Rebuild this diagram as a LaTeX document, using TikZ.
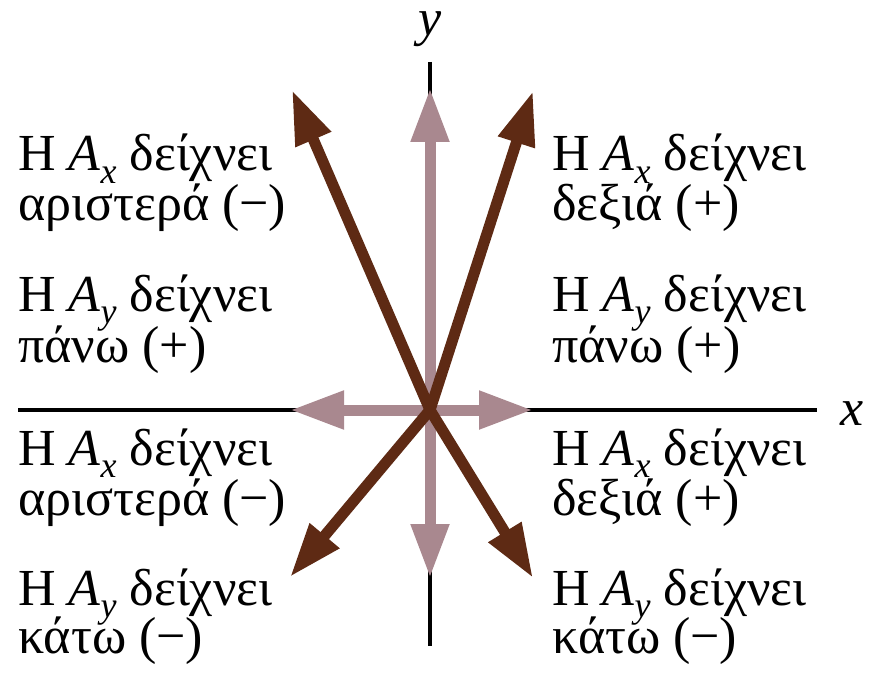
\documentclass[tikz,border=0pt]{standalone}
\usepackage{fontspec}
\setmainfont{Liberation Serif}
\usetikzlibrary{arrows.meta}
\definecolor{vecbrown}{HTML}{5E2A14}
\definecolor{vecpink}{HTML}{A9888F}
\newcommand\compsub[1]{\raisebox{-0.24em}{\fontsize{36}{36}\selectfont\itshape #1}}
\newcommand\Acomp[1]{\textit{A}\compsub{#1}}
\begin{document}
\begin{tikzpicture}[x=1pt,y=-1pt,
  lbl/.style={anchor=base west, inner sep=0pt, font=\fontsize{52}{60}\selectfont},
  axlabel/.style={anchor=base, inner sep=0pt, text height=0.5em, font=\fontsize{52}{60}\selectfont\itshape},
  axisline/.style={line width=4pt, black},
  comp/.style={line width=11pt, vecpink, -{Triangle[length=54pt,width=36pt]}},
  vec/.style={line width=11pt, vecbrown, -{Triangle[length=54pt,width=36pt]}}]
\useasboundingbox (0,0) rectangle (877,676);
\coordinate (O) at (430,410);
\coordinate (xl) at (18,410);
\coordinate (xr) at (817,410);
\coordinate (yt) at (430,62);
\coordinate (yb) at (430,646);
\draw[axisline] (xl) -- (xr);
\draw[axisline] (yt) -- (yb);
\node[axlabel] (xlab) at (852,425) {x};
\node[axlabel] (ylab) at (430,36) {y};
% components
\coordinate (pu) at (430,88);
\coordinate (pl) at (290,410);
\coordinate (pr) at (533,410);
\coordinate (pd) at (430,578);
\draw[comp] (O) -- (pu);
\draw[comp] (O) -- (pl);
\draw[comp] (O) -- (pr);
\draw[comp] (O) -- (pd);
% vectors
\coordinate (bul) at (292,90);
\coordinate (bur) at (533,91);
\coordinate (bdl) at (290,577);
\coordinate (bdr) at (533,578);
\draw[vec] (O) -- (bul);
\draw[vec] (O) -- (bur);
\draw[vec] (O) -- (bdl);
\draw[vec] (O) -- (bdr);
% labels upper left
\node[lbl] (ul1) at (18,171) {Η \Acomp{x} δείχνει};
\node[lbl] (ul2) at (18,221) {αριστερά (−)};
\node[lbl] (ul3) at (18,311) {Η \Acomp{y} δείχνει};
\node[lbl] (ul4) at (18,362) {πάνω (+)};
% upper right
\node[lbl] (ur1) at (552,171) {Η \Acomp{x} δείχνει};
\node[lbl] (ur2) at (552,221) {δεξιά (+)};
\node[lbl] (ur3) at (552,311) {Η \Acomp{y} δείχνει};
\node[lbl] (ur4) at (552,362) {πάνω (+)};
% lower left
\node[lbl] (ll1) at (18,465) {Η \Acomp{x} δείχνει};
\node[lbl] (ll2) at (18,515) {αριστερά (−)};
\node[lbl] (ll3) at (18,605) {Η \Acomp{y} δείχνει};
\node[lbl] (ll4) at (18,653) {κάτω (−)};
% lower right
\node[lbl] (lr1) at (552,465) {Η \Acomp{x} δείχνει};
\node[lbl] (lr2) at (552,515) {δεξιά (+)};
\node[lbl] (lr3) at (552,605) {Η \Acomp{y} δείχνει};
\node[lbl] (lr4) at (552,653) {κάτω (−)};
\end{tikzpicture}
\end{document}
